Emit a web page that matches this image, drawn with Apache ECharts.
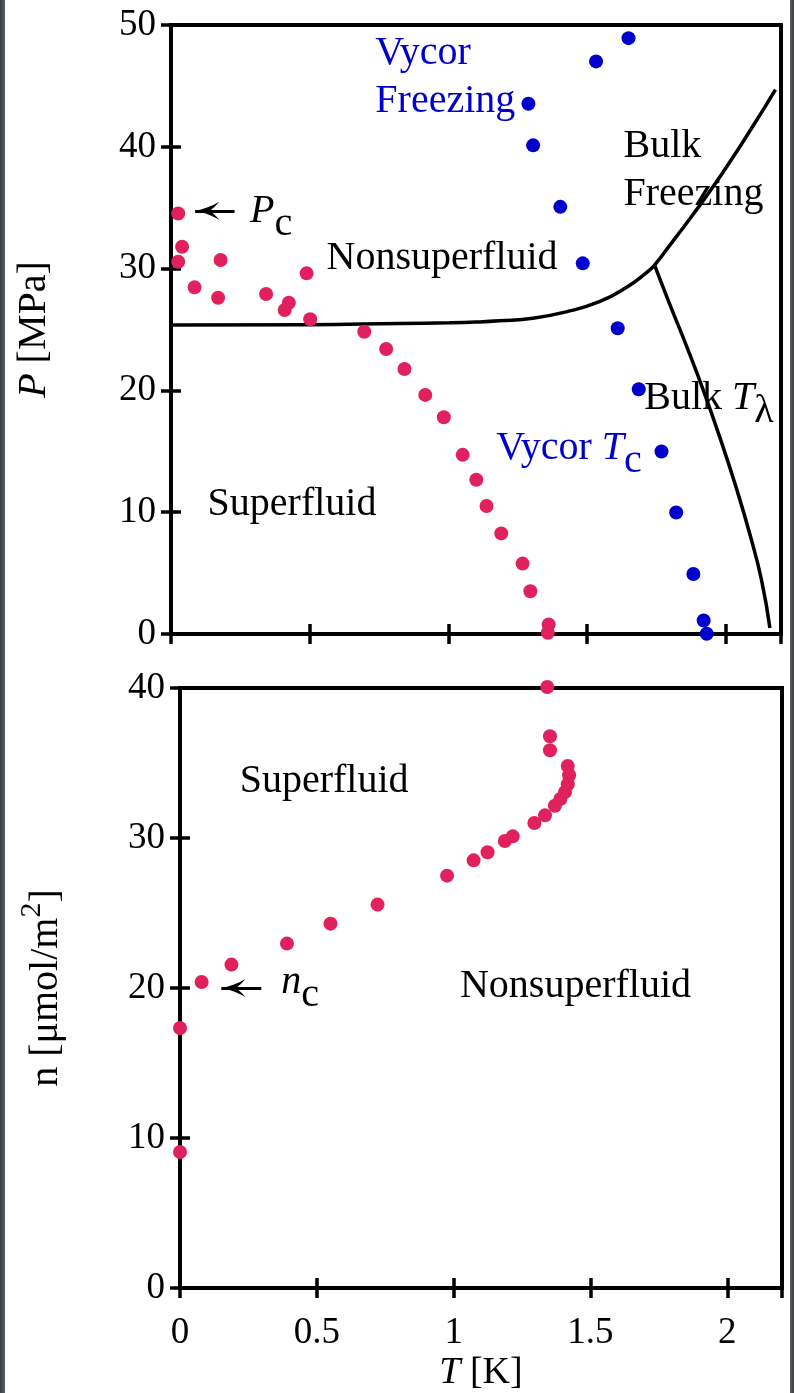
<!DOCTYPE html>
<html>
<head>
<meta charset="utf-8">
<script src="https://cdn.jsdelivr.net/npm/echarts@6/dist/echarts.min.js"></script>
<style>
html, body { margin: 0; padding: 0; background: #ffffff; }
#chart { width: 794px; height: 1393px; }
</style>
</head>
<body>
<div id="chart"></div>
<script>
// Phase diagram of 4He confined in Vycor: P–T (top) and n–T (bottom)

// ---- data ----
// superfluid onset in Vycor, P–T plane (T in K, P in MPa)
const redTopT = [0.026, 0.040, 0.026, 0.085, 0.170, 0.179, 0.343, 0.410, 0.425, 0.489, 0.502, 0.697,
                 0.776, 0.842, 0.917, 0.984, 1.052, 1.101, 1.138, 1.191, 1.268, 1.296, 1.362, 1.359];
const redTopP = [34.52, 31.79, 30.56, 28.46, 27.61, 30.70, 27.91, 26.60, 27.20, 29.61, 25.84, 24.82,
                 23.40, 21.76, 19.63, 17.80, 14.71, 12.66, 10.51, 8.26, 5.78, 3.51, 0.78, 0.10];
// freezing and T_c in Vycor
const blueTopT = [1.650, 1.533, 1.289, 1.306, 1.404, 1.485, 1.611, 1.687, 1.769, 1.822, 1.884, 1.921, 1.932];
const blueTopP = [48.92, 47.01, 43.54, 40.12, 35.07, 30.43, 25.10, 20.10, 14.98, 9.98, 4.93, 1.11, 0.02];
// bulk melting curve
const meltT = [0, 0.5, 0.824, 1.004, 1.10, 1.185, 1.305, 1.425, 1.545, 1.642, 1.714, 1.744,
               1.80, 1.86, 1.92, 1.98, 2.04, 2.10, 2.14, 2.18];
const meltP = [25.37, 25.40, 25.50, 25.55, 25.61, 25.71, 25.93, 26.45, 27.28, 28.45, 29.65, 30.29,
               31.95, 33.75, 35.60, 37.55, 39.60, 41.75, 43.20, 44.70];
// bulk lambda line
const lambdaT = [1.744, 1.80, 1.86, 1.92, 1.98, 2.04, 2.09, 2.13, 2.16];
const lambdaP = [30.29, 27.00, 23.60, 20.00, 16.10, 11.90, 8.00, 4.40, 0.50];
// superfluid onset, n–T plane (n in umol/m^2)
const redBotT = [0, 0, 0.079, 0.188, 0.391, 0.550, 0.722, 0.976, 1.073, 1.124, 1.187, 1.216, 1.295,
                 1.334, 1.370, 1.390, 1.407, 1.417, 1.422, 1.417, 1.352, 1.352, 1.342];
const redBotN = [9.07, 17.33, 20.40, 21.56, 22.96, 24.29, 25.56, 27.49, 28.51, 29.05, 29.80, 30.11, 31.00,
                 31.51, 32.15, 32.60, 33.07, 33.58, 34.18, 34.80, 35.85, 36.78, 40.07];
// axis ranges
const tRange = [0, 2.2], tStep = 0.5;
const pRange = [0, 50], pStep = 10;
const nRange = [0, 40], nStep = 10;

// ---- style ----
const FONT = 'Liberation Serif';
const RED = '#E0215D';
const BLUE = '#0000CD';
const ARROW = 'path://M0,0 C1,6 4,16 9,24 C4,20 2,17 0,15 C-2,17 -4,20 -9,24 C-4,16 -1,6 0,0 Z';

const zip = (xs, ys) => xs.map((x, i) => [x, ys[i]]);

function xAxis(grid, pos, labels, name) {
  return {
    type: 'value', gridIndex: grid, position: pos,
    min: tRange[0], max: tRange[1], interval: tStep,
    axisLine: { show: false }, splitLine: { show: false },
    axisTick: { show: true, inside: true, length: 10, lineStyle: { color: '#000', width: 3.5 } },
    axisLabel: { show: labels, showMaxLabel: false, fontFamily: FONT, fontSize: 37, color: '#000', margin: 27 },
    name: name || '', nameLocation: 'middle', nameGap: 66,
    nameTextStyle: { fontFamily: FONT, fontSize: 38, color: '#000',
      rich: { i: { fontFamily: FONT, fontSize: 38, fontStyle: 'italic', color: '#000' } } }
  };
}
function yAxis(grid, pos, range, step, labels, name, gap) {
  return {
    type: 'value', gridIndex: grid, position: pos,
    min: range[0], max: range[1], interval: step,
    axisLine: { show: false }, splitLine: { show: false },
    axisTick: { show: true, inside: true, length: 10, lineStyle: { color: '#000', width: 3.5 } },
    axisLabel: { show: labels, fontFamily: FONT, fontSize: 37, color: '#000', margin: 15 },
    name: name || '', nameLocation: 'middle', nameGap: gap || 0,
    nameTextStyle: { fontFamily: FONT, fontSize: 40, color: '#000',
      rich: {
        a: { fontFamily: FONT, fontSize: 40, color: '#000', verticalAlign: 'bottom' },
        i: { fontFamily: FONT, fontSize: 40, color: '#000', fontStyle: 'italic', verticalAlign: 'bottom' },
        sup: { fontFamily: FONT, fontSize: 30, color: '#000', verticalAlign: 'bottom', padding: [0, 0, 19, 0] }
      } }
  };
}
function arrowLine(from, to) {
  return {
    silent: true, animation: false,
    symbol: ['none', ARROW], symbolSize: [18, 24], symbolOffset: [[0, 0], [0, 12]],
    lineStyle: { color: '#000', width: 3, type: 'solid', opacity: 1 },
    label: { show: false },
    emphasis: { disabled: true },
    data: [[{ coord: from }, { coord: to }]]
  };
}
function dots(xi, yi, xs, ys, color, extra) {
  return Object.assign({
    type: 'scatter', xAxisIndex: xi, yAxisIndex: yi, data: zip(xs, ys), symbol: 'circle',
    symbolSize: 14, clip: false, itemStyle: { color: color, opacity: 1 }, z: 3
  }, extra || {});
}
function curve(xs, ys) {
  return {
    type: 'line', xAxisIndex: 0, yAxisIndex: 0, data: zip(xs, ys), smooth: 0.5,
    symbol: 'none', showSymbol: false, clip: false, lineStyle: { color: '#000', width: 3.5 }, z: 2
  };
}

const chart = echarts.init(document.getElementById('chart'), null, { renderer: 'canvas' });

chart.setOption({
  animation: false,
  backgroundColor: '#ffffff',
  grid: [
    { left: 171, top: 25, width: 610, height: 609, show: true, borderColor: '#000', borderWidth: 4, backgroundColor: 'transparent' },
    { left: 180, top: 688, width: 602, height: 600, show: true, borderColor: '#000', borderWidth: 4, backgroundColor: 'transparent' }
  ],
  xAxis: [
    xAxis(0, 'bottom', false),
    xAxis(0, 'top', false),
    xAxis(1, 'bottom', true, '{i|T} [K]'),
    xAxis(1, 'top', false)
  ],
  yAxis: [
    yAxis(0, 'left', pRange, pStep, true, '{i|P}{a| [MPa]}', 117),
    yAxis(0, 'right', pRange, pStep, false),
    yAxis(1, 'left', nRange, nStep, true, '{a|n [μmol/m}{sup|2}{a|]}', 114),
    yAxis(1, 'right', nRange, nStep, false)
  ],
  series: [
    curve(meltT, meltP),
    curve(lambdaT, lambdaP),
    dots(0, 0, blueTopT, blueTopP, BLUE),
    dots(0, 0, redTopT, redTopP, RED, { markLine: arrowLine([0.229, 34.74], [0.087, 34.74]) }),
    dots(2, 2, redBotT, redBotN, RED, { markLine: arrowLine([0.297, 20.0], [0.151, 20.0]) })
  ]
});

// ---- region labels, placed in data coordinates (anchor = left end of the baseline) ----
function richStyles(color) {
  const base = { fontFamily: FONT, fontSize: 40, fill: color, verticalAlign: 'top' };
  return {
    a: Object.assign({}, base),
    i: Object.assign({}, base, { fontStyle: 'italic' }),
    sub: Object.assign({}, base, { padding: [13, 0, 0, 0] })
  };
}
function label(grid, t, v, text, color) {
  const p = chart.convertToPixel({ gridIndex: grid }, [t, v]);
  return {
    type: 'text', x: p[0], y: p[1] - 33.5, z: 100, silent: true,
    style: { text: text, fill: color, fontFamily: FONT, fontSize: 40, align: 'left', verticalAlign: 'top', rich: richStyles(color) }
  };
}

const labels = [
  label(0, 0.737, 46.52, '{a|Vycor}', BLUE),
  label(0, 0.737, 42.58, '{a|Freezing}', BLUE),
  label(0, 1.632, 38.89, '{a|Bulk}', '#000'),
  label(0, 1.632, 34.96, '{a|Freezing}', '#000'),
  label(0, 0.561, 29.74, '{a|Nonsuperfluid}', '#000'),
  label(0, 0.132, 9.55, '{a|Superfluid}', '#000'),
  label(0, 1.707, 18.26, '{a|Bulk }{i|T}{sub|λ}', '#000'),
  label(0, 1.173, 14.16, '{a|Vycor }{i|T}{sub|c}', BLUE),
  label(0, 0.285, 33.55, '{i|P}{sub|c}', '#000'),
  label(1, 0.218, 32.85, '{a|Superfluid}', '#000'),
  label(1, 1.023, 19.18, '{a|Nonsuperfluid}', '#000'),
  label(1, 0.370, 19.50, '{i|n}{sub|c}', '#000')
];

// dark page margins at both sides
const sides = [
  { type: 'rect', left: 0, top: 0, z: 200, silent: true, shape: { width: 5, height: 1393 },
    style: { fill: new echarts.graphic.LinearGradient(0, 0, 1, 0, [{ offset: 0, color: '#3a3f43' }, { offset: 1, color: '#5a5f63' }]) } },
  { type: 'rect', left: 790, top: 0, z: 200, silent: true, shape: { width: 4, height: 1393 },
    style: { fill: new echarts.graphic.LinearGradient(0, 0, 1, 0, [{ offset: 0, color: '#5a5f63' }, { offset: 1, color: '#3a3f43' }]) } }
];

chart.setOption({ graphic: labels.concat(sides) });
</script>
</body>
</html>
